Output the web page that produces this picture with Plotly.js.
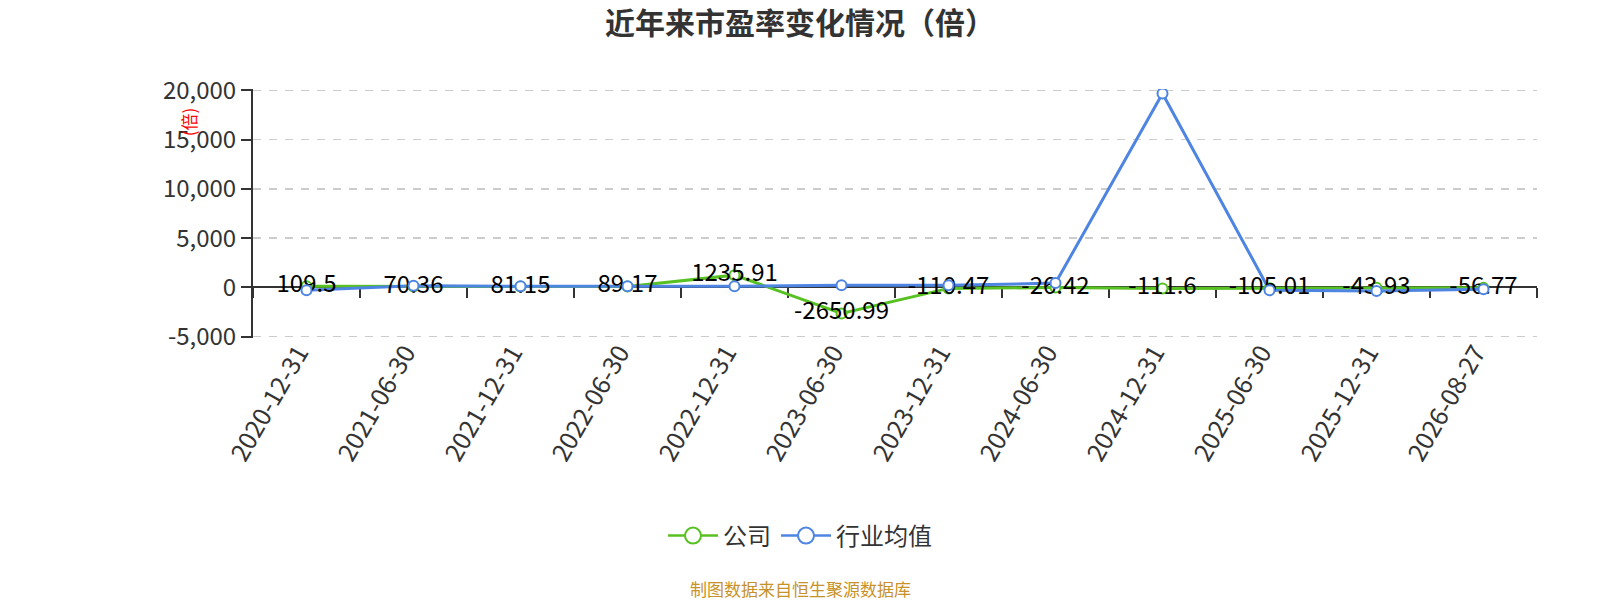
<!DOCTYPE html>
<html>
<head>
<meta charset="utf-8">
<script src="https://cdn.plot.ly/plotly-3.0.1.min.js"></script>
<style>
  html, body { margin: 0; padding: 0; background: #fff; }
  #chart { width: 1600px; height: 600px; }
</style>
</head>
<body>
<div id="chart"></div>
<script>
const dates = ['2020-12-31', '2021-06-30', '2021-12-31', '2022-06-30', '2022-12-31', '2023-06-30',
               '2023-12-31', '2024-06-30', '2024-12-31', '2025-06-30', '2025-12-31', '2026-08-27'];
const company = [109.5, 70.36, 81.15, 89.17, 1235.91, -2650.99, -110.47, -26.42, -111.6, -105.01, -43.93, -56.77];
// industry average
const industry = [-310, 150, 100, 100, 100, 200, 200, 430, 19700, -300, -370, -200];
const yTicks = [-5000, 0, 5000, 10000, 15000, 20000];

const FONT = '"Noto Sans CJK SC", "Noto Sans", sans-serif';
const GREEN = '#58c122';
const BLUE = '#4e84e2';

const yMin = -5000, yMax = 20000;
const yPad = 150; // keeps the edge gridlines visible
// x axis line sits on y = 0
const zeroPos = (0 - (yMin - yPad)) / (yMax - yMin + 2 * yPad);

// plot area in px, used to place things relative to the page centre
const M = { t: 89, b: 262, l: 253, r: 63 };
const plotW = 1600 - M.l - M.r;
const plotH = 600 - M.t - M.b;
const pageCentreX = (800 - M.l) / plotW;
const belowY = px => -(px - (600 - M.b)) / plotH;

const markerOf = (c, size) => ({ symbol: 'circle', size: size, color: '#fff', line: { color: c, width: 2 } });

// draw order: green line, blue line, green labels, blue markers on top
const traces = [
    {
        type: 'scatter', mode: 'lines+markers', name: '公司', showlegend: false,
        x: dates, y: company,
        line: { color: GREEN, width: 3 },
        marker: markerOf(GREEN, 10),
        hoverinfo: 'skip'
    },
    {
        type: 'scatter', mode: 'lines', name: '行业均值', showlegend: false,
        x: dates, y: industry,
        line: { color: BLUE, width: 3 },
        hoverinfo: 'skip'
    },
    {
        type: 'scatter', mode: 'text', showlegend: false,
        x: dates, y: company,
        text: company.map(v => String(v)),
        textposition: 'middle center',
        textfont: { family: FONT, size: 24, color: '#000' },
        hoverinfo: 'skip'
    },
    {
        type: 'scatter', mode: 'markers', showlegend: false,
        x: dates, y: industry,
        marker: markerOf(BLUE, 10),
        hoverinfo: 'skip'
    },
    // legend entries only (no drawn points)
    {
        type: 'scatter', mode: 'lines+markers', name: '公司',
        x: [dates[0]], y: [null],
        line: { color: GREEN, width: 2.5 },
        marker: markerOf(GREEN, 20),
        hoverinfo: 'skip'
    },
    {
        type: 'scatter', mode: 'lines+markers', name: '行业均值',
        x: [dates[0]], y: [null],
        line: { color: BLUE, width: 2.5 },
        marker: markerOf(BLUE, 20),
        hoverinfo: 'skip'
    }
];

const layout = {
    width: 1600,
    height: 600,
    paper_bgcolor: '#fff',
    plot_bgcolor: '#fff',
    margin: M,
    font: { family: FONT, color: '#333' },
    title: {
        text: '<b>近年来市盈率变化情况（倍）</b>',
        font: { family: FONT, size: 30, color: '#333' },
        x: 0.5, xref: 'container', xanchor: 'center',
        y: 1 - 23 / 600, yref: 'container', yanchor: 'middle'
    },
    xaxis: {
        type: 'category',
        range: [-0.5, dates.length - 0.5],
        anchor: 'free',
        position: zeroPos,
        layer: 'below traces',
        showline: true,
        linecolor: '#333',
        linewidth: 2,
        ticks: 'outside',
        tickson: 'boundaries',
        ticklen: 10,
        tickcolor: '#333',
        tickwidth: 2,
        showgrid: false,
        zeroline: false,
        tickangle: -60,
        ticklabelstandoff: 40,
        ticklabelshift: -8,
        tickfont: { family: FONT, size: 25, color: '#333' },
        fixedrange: true
    },
    yaxis: {
        range: [yMin - yPad, yMax + yPad],
        tickvals: yTicks,
        ticktext: yTicks.map(v => v.toLocaleString('en-US')),
        layer: 'below traces',
        showline: true,
        linecolor: '#333',
        linewidth: 2,
        ticks: 'outside',
        ticklen: 10,
        tickcolor: '#333',
        tickwidth: 2,
        showgrid: true,
        gridcolor: '#cccccc',
        griddash: '8px,8px',
        gridwidth: 1.5,
        zeroline: false,
        tickfont: { family: FONT, size: 24, color: '#333' },
        fixedrange: true
    },
    showlegend: true,
    legend: {
        orientation: 'h',
        x: pageCentreX, xanchor: 'center',
        y: belowY(536), yanchor: 'middle',
        itemwidth: 50,
        font: { family: FONT, size: 24, color: '#333' }
    },
    annotations: [
        {
            text: '(倍)',
            xref: 'paper', yref: 'paper',
            x: -0.05, y: 0.87,
            xanchor: 'center', yanchor: 'middle',
            textangle: -90,
            showarrow: false,
            font: { family: FONT, size: 17, color: '#ff0000' }
        },
        {
            text: '制图数据来自恒生聚源数据库',
            xref: 'paper', yref: 'paper',
            x: pageCentreX, y: belowY(588),
            xanchor: 'center', yanchor: 'middle',
            showarrow: false,
            font: { family: FONT, size: 17, color: '#c8922a' }
        }
    ]
};

Plotly.newPlot('chart', traces, layout, { displayModeBar: false, staticPlot: true });
</script>
</body>
</html>
